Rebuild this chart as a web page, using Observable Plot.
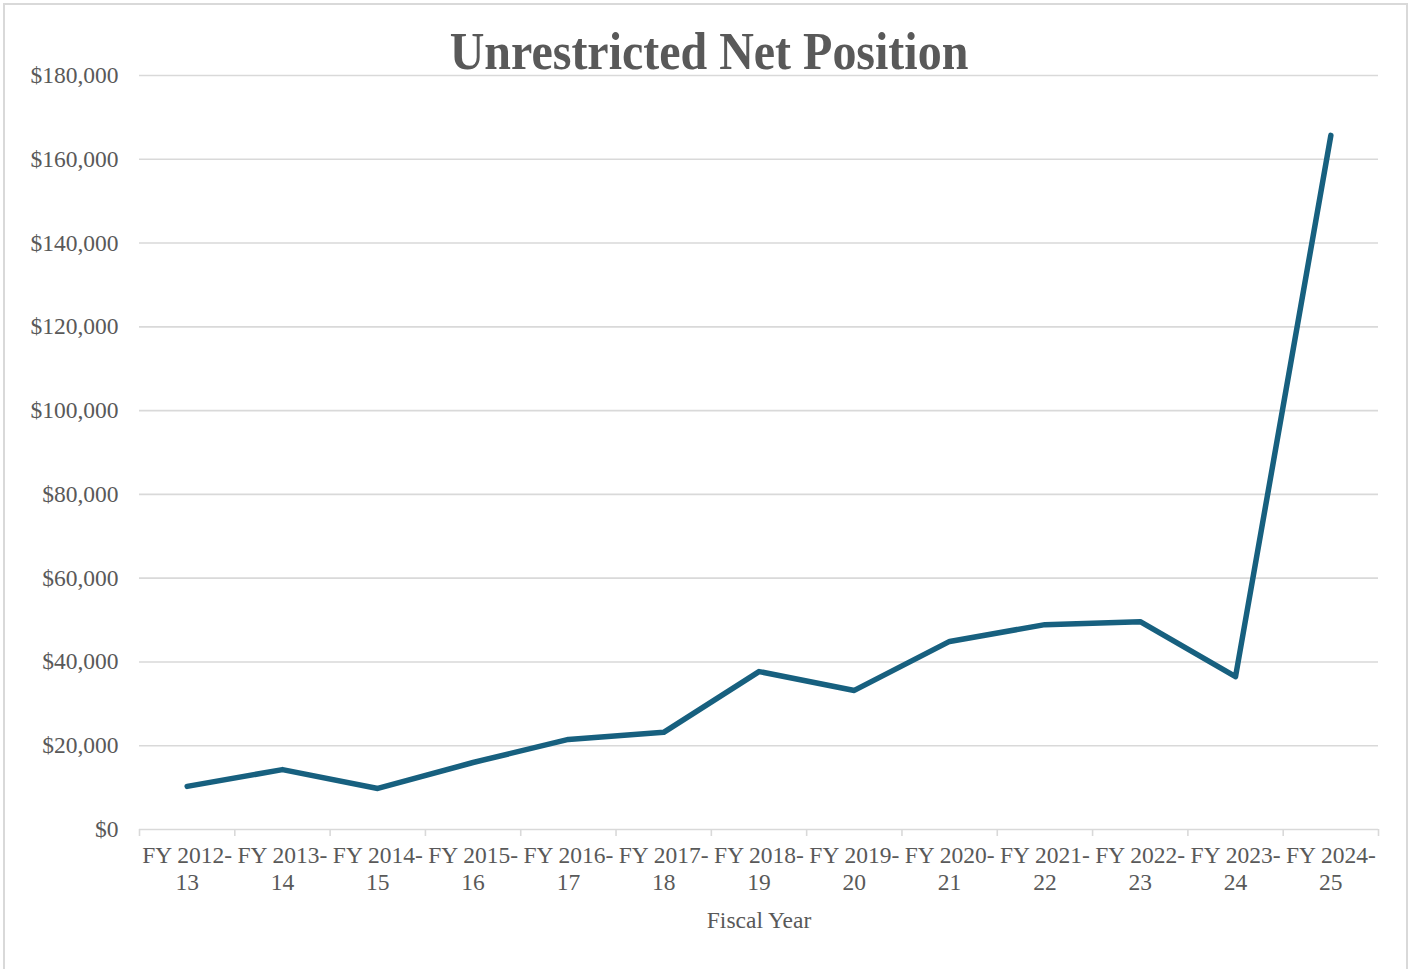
<!DOCTYPE html>
<html>
<head>
<meta charset="utf-8">
<script src="https://cdn.jsdelivr.net/npm/d3@7"></script>
<script src="https://cdn.jsdelivr.net/npm/@observablehq/plot@0.6"></script>
<style>
  html, body { margin: 0; padding: 0; background: #fff; }
  #wrap { position: relative; width: 1414px; height: 969px; overflow: hidden; }
  #frame { position: absolute; left: 3px; top: 3px; width: 1405px; height: 970px; border: 2px solid #d9d9d9; box-sizing: border-box; }
  #title { position: absolute; left: 0; width: 1418px; top: 25px; text-align: center;
    font-family: "Liberation Serif", "Times New Roman", serif; font-weight: bold; font-size: 53px; color: #595959; line-height: 1;
    transform: scaleX(0.905); transform-origin: 709px 0; }
  #chart { position: absolute; left: 0; top: 0; }
</style>
</head>
<body>
<div id="wrap">
  <div id="frame"></div>
  <div id="chart"></div>
  <div id="title">Unrestricted Net Position</div>
</div>
<script>
const fiscalYears = ["FY 2012-\n13", "FY 2013-\n14", "FY 2014-\n15", "FY 2015-\n16", "FY 2016-\n17", "FY 2017-\n18", "FY 2018-\n19", "FY 2019-\n20", "FY 2020-\n21", "FY 2021-\n22", "FY 2022-\n23", "FY 2023-\n24", "FY 2024-\n25"];
const netPosition = [10300, 14300, 9800, 16000, 21500, 23200, 37700, 33200, 44900, 48900, 49600, 36500, 165700];
const yTicks = [0, 20000, 40000, 60000, 80000, 100000, 120000, 140000, 160000, 180000];
const xTitle = "Fiscal Year";

const data = fiscalYears.map((label, i) => ({ label, pos: i + 0.5, value: netPosition[i] }));
const boundaries = d3.range(fiscalYears.length + 1);

const font = '"Liberation Serif", "Times New Roman", serif';
const textColor = "#595959";
const gridColor = "#d9d9d9";

const chart = Plot.plot({
  width: 1414,
  height: 969,
  marginLeft: 139,
  marginRight: 36,
  marginTop: 75,
  marginBottom: 140,
  style: { fontFamily: font, fontSize: "23.5px", color: textColor, background: "transparent" },
  x: { type: "linear", domain: [0, fiscalYears.length], axis: null, label: null },
  y: { type: "linear", domain: [0, 180000], axis: null, label: null },
  marks: [
    Plot.ruleY(yTicks, { stroke: gridColor, strokeWidth: 1.6, strokeOpacity: 1 }),
    Plot.axisX(boundaries, { anchor: "bottom", label: null, tickSize: 7, tickFormat: () => "", stroke: gridColor, strokeWidth: 1.6, strokeOpacity: 1 }),
    Plot.text(yTicks, { frameAnchor: "left", y: d => d, text: d => "$" + d3.format(",")(d), textAnchor: "end", dx: -21, fill: textColor, fontSize: 23.5 }),
    Plot.text(data, { x: "pos", frameAnchor: "bottom", text: "label", lineAnchor: "top", lineHeight: 1.15, dy: 14, fill: textColor, fontSize: 23.5 }),
    Plot.text([xTitle], { x: () => fiscalYears.length / 2, frameAnchor: "bottom", text: d => d, lineAnchor: "top", dy: 82, fill: textColor, fontSize: 23.5 }),
    Plot.line(data, { x: "pos", y: "value", stroke: "#17607f", strokeWidth: 5.5, strokeLinecap: "round", strokeLinejoin: "round" })
  ]
});
document.getElementById("chart").appendChild(chart);
</script>
</body>
</html>
